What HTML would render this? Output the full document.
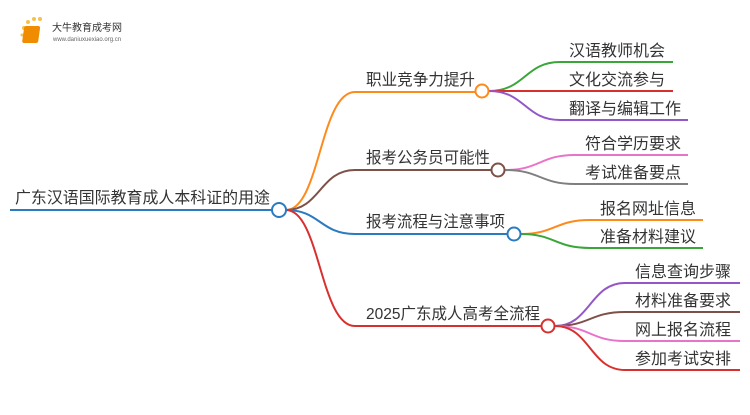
<!DOCTYPE html>
<html><head><meta charset="utf-8"><style>
body{margin:0;background:#fff;width:750px;height:410px;overflow:hidden}
text{font-family:"Liberation Sans","Noto Sans CJK SC",sans-serif;fill:#333}
</style></head><body>
<svg width="750" height="410" viewBox="0 0 750 410" xmlns="http://www.w3.org/2000/svg" fill="none" stroke-width="2">
<!-- logo -->
<g stroke="none">
<circle cx="24" cy="28" r="2" fill="#f7c04a"/><circle cx="28" cy="22" r="2" fill="#f7c04a"/><circle cx="34" cy="19" r="2" fill="#f7c04a"/><circle cx="40" cy="19" r="2" fill="#f7c04a"/><circle cx="22" cy="35" r="1.5" fill="#f7c04a"/><circle cx="24" cy="41" r="1.5" fill="#f7c04a"/>
<rect x="28" y="26" width="16" height="17" rx="2" fill="#f08c00" transform="skewX(-8)"/>
<text x="52" y="31" font-size="10" style="fill:#333">大牛教育成考网</text>
<text x="53" y="41" font-size="6" style="fill:#666">www.daniuxuexiao.org.cn</text>
</g>
<!-- root -->
<path d="M10 210H272" stroke="#2b7bc0"/>
<text x="15" y="203" font-size="16" textLength="255" lengthAdjust="spacingAndGlyphs" stroke="none">广东汉语国际教育成人本科证的用途</text>
<!-- branches -->
<path d="M286 210C320 210 320 92 355 92H475" stroke="#ff8a1c"/>
<path d="M286 210C320 210 320 170 355 170H491" stroke="#7d5147"/>
<path d="M286 210C320 210 320 234 355 234H507" stroke="#2b7bc0"/>
<path d="M286 210C320 210 320 326 355 326H541" stroke="#d8302e"/>
<text x="366" y="85" font-size="16" textLength="109" lengthAdjust="spacingAndGlyphs" stroke="none">职业竞争力提升</text>
<text x="366" y="163" font-size="16" textLength="124" lengthAdjust="spacingAndGlyphs" stroke="none">报考公务员可能性</text>
<text x="366" y="227" font-size="16" textLength="139" lengthAdjust="spacingAndGlyphs" stroke="none">报考流程与注意事项</text>
<text x="366" y="319" font-size="16" textLength="174" lengthAdjust="spacingAndGlyphs" stroke="none">2025广东成人高考全流程</text>
<!-- leaves B1 -->
<path d="M489 91C525 91 525 62 560 62H673" stroke="#3aa63a"/>
<path d="M489 91H673" stroke="#d8302e"/>
<path d="M489 91C525 91 525 120 560 120H688" stroke="#9457c8"/>
<text x="569" y="56" font-size="16" stroke="none">汉语教师机会</text>
<text x="569" y="85" font-size="16" stroke="none">文化交流参与</text>
<text x="569" y="114" font-size="16" stroke="none">翻译与编辑工作</text>
<!-- B2 -->
<path d="M505 170C540 170 540 155 575 155H688" stroke="#e873c8"/>
<path d="M505 170C540 170 540 184 575 184H688" stroke="#7f7f7f"/>
<text x="585" y="149" font-size="16" stroke="none">符合学历要求</text>
<text x="585" y="178" font-size="16" stroke="none">考试准备要点</text>
<!-- B3 -->
<path d="M521 234C555 234 555 220 590 220H703" stroke="#ff8a1c"/>
<path d="M521 234C555 234 555 248 590 248H703" stroke="#3aa63a"/>
<text x="600" y="214" font-size="16" stroke="none">报名网址信息</text>
<text x="600" y="242" font-size="16" stroke="none">准备材料建议</text>
<!-- B4 -->
<path d="M555 326C590 326 590 283 625 283H740" stroke="#9457c8"/>
<path d="M555 326C590 326 590 312 625 312H740" stroke="#7d5147"/>
<path d="M555 326C590 326 590 341 625 341H740" stroke="#e873c8"/>
<path d="M555 326C590 326 590 370 625 370H740" stroke="#d8302e"/>
<text x="635" y="277" font-size="16" stroke="none">信息查询步骤</text>
<text x="635" y="306" font-size="16" stroke="none">材料准备要求</text>
<text x="635" y="335" font-size="16" stroke="none">网上报名流程</text>
<text x="635" y="364" font-size="16" stroke="none">参加考试安排</text>
<!-- circles -->
<circle cx="279" cy="210" r="7" fill="#fff" stroke="#2b7bc0"/>
<circle cx="482" cy="91" r="6.5" fill="#fff" stroke="#ff8a1c"/>
<circle cx="498" cy="170" r="6.5" fill="#fff" stroke="#7d5147"/>
<circle cx="514" cy="234" r="6.5" fill="#fff" stroke="#2b7bc0"/>
<circle cx="548" cy="326" r="6.5" fill="#fff" stroke="#d8302e"/>
</svg>
</body></html>
